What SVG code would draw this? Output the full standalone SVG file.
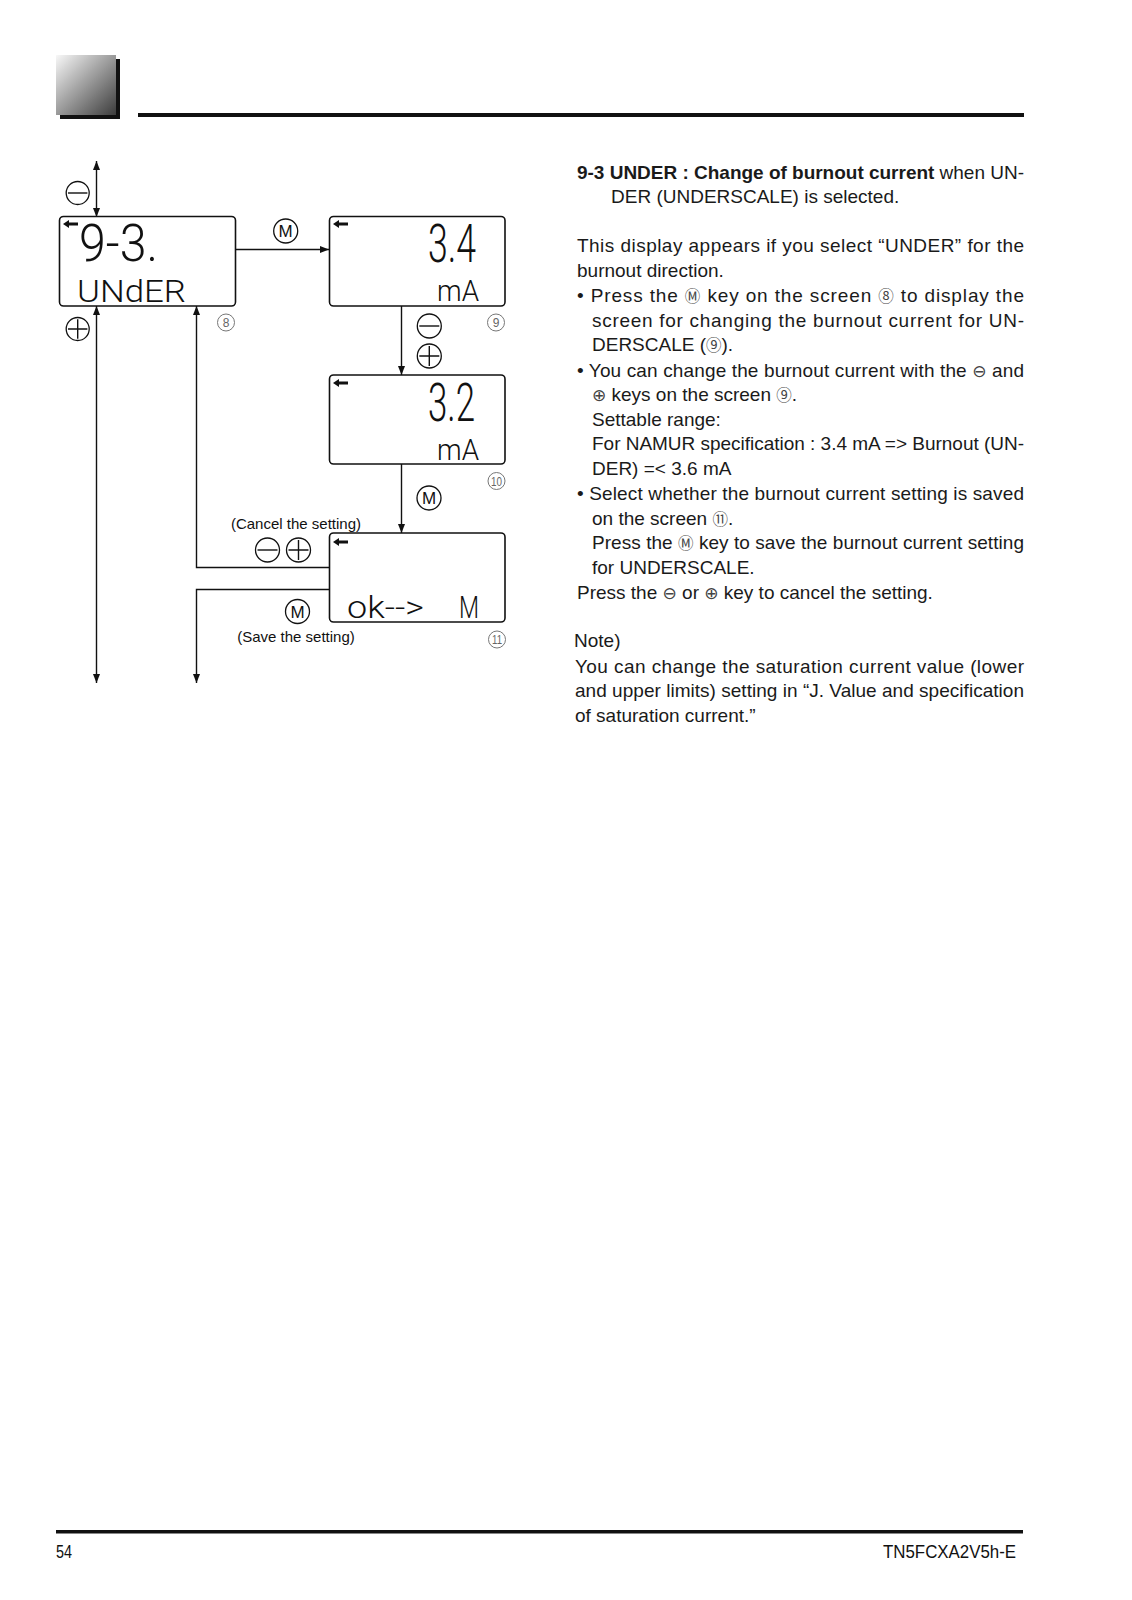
<svg xmlns="http://www.w3.org/2000/svg" width="1132" height="1600" viewBox="0 0 1132 1600">
<style>
.t{font-family:"Liberation Sans",Arial,sans-serif;font-size:19px;fill:#1a1a1a}
.b{font-weight:bold}
.sym{font-family:"DejaVu Sans",sans-serif;font-size:17px;fill:#444}
.cjk{font-family:"Noto Sans CJK JP",sans-serif;font-size:15.5px;fill:#444}
.box{fill:#fff;stroke:#111;stroke-width:1.6}
.con{fill:none;stroke:#111;stroke-width:1.4}
.key{fill:#fff;stroke:#111;stroke-width:1.3}
.num{fill:none;stroke:#777;stroke-width:1}
.numt{font-family:"Liberation Sans",Arial,sans-serif;font-size:12px;fill:#666;text-anchor:middle}
.kt{font-family:"Liberation Sans",Arial,sans-serif;font-size:17px;fill:#111;text-anchor:middle}
.lbl{font-family:"Liberation Sans",Arial,sans-serif;font-size:15px;fill:#111;text-anchor:middle}
.lcd{font-family:Roboto,Lato,"DejaVu Sans",sans-serif;font-weight:300;fill:#111}
.ft{font-family:"Liberation Sans",Arial,sans-serif;font-size:18px;fill:#111}
</style>
<defs>
<linearGradient id="g" x1="0" y1="0" x2="1" y2="1">
<stop offset="0" stop-color="#f8f8f8"/>
<stop offset="1" stop-color="#3c3c3c"/>
</linearGradient>
<marker id="ah" markerUnits="userSpaceOnUse" markerWidth="9" markerHeight="7" refX="9" refY="3.5" orient="auto-start-reverse">
<path d="M0,0 L9,3.5 L0,7 z" fill="#111"/>
</marker>
<path id="sa" d="M0,0 L6,-4 L6,-1.6 L15,-1.6 L15,1.6 L6,1.6 L6,4 z" fill="#111"/>
</defs>

<!-- header -->
<g id="header">
<rect x="60" y="59" width="60" height="60" fill="#111"/>
<rect x="56" y="55" width="60" height="60" fill="url(#g)"/>
<rect x="138" y="113" width="886" height="4" fill="#111"/>
</g>

<!-- connectors -->
<g id="connectors">
<path class="con" d="M96.5,161 V217" marker-start="url(#ah)" marker-end="url(#ah)"/>
<path class="con" d="M96.5,306 V683" marker-start="url(#ah)" marker-end="url(#ah)"/>
<path class="con" d="M329,567.5 H196.5 V306" marker-end="url(#ah)"/>
<path class="con" d="M329,589.5 H196.5 V683" marker-end="url(#ah)"/>
<path class="con" d="M236,249.5 H329" marker-end="url(#ah)"/>
<path class="con" d="M401.5,306 V375" marker-end="url(#ah)"/>
<path class="con" d="M401.5,464 V533" marker-end="url(#ah)"/>
</g>

<!-- screen 8 -->
<g id="screen8">
<rect class="box" x="59.5" y="216.5" width="176" height="89.5" rx="4"/>
<use href="#sa" x="63" y="224"/>
<text class="lcd" x="79" y="261" font-size="52" textLength="79" lengthAdjust="spacingAndGlyphs">9-3.</text>
<text class="lcd" x="77" y="302" font-size="32" textLength="109" lengthAdjust="spacingAndGlyphs">UNdER</text>
</g>

<!-- screen 9 -->
<g id="screen9">
<rect class="box" x="329.5" y="216.5" width="175.5" height="89.5" rx="4"/>
<use href="#sa" x="333" y="224"/>
<text class="lcd" x="428" y="262" font-size="53" textLength="48" lengthAdjust="spacingAndGlyphs">3.4</text>
<text class="lcd" x="437" y="301" font-size="30" textLength="42" lengthAdjust="spacingAndGlyphs">mA</text>
</g>

<!-- screen 10 -->
<g id="screen10">
<rect class="box" x="329.5" y="375" width="175.5" height="89" rx="4"/>
<use href="#sa" x="333" y="383"/>
<text class="lcd" x="428" y="421" font-size="53" textLength="47" lengthAdjust="spacingAndGlyphs">3.2</text>
<text class="lcd" x="437" y="460" font-size="30" textLength="42" lengthAdjust="spacingAndGlyphs">mA</text>
</g>

<!-- screen 11 -->
<g id="screen11">
<rect class="box" x="329.5" y="533" width="175.5" height="89" rx="4"/>
<use href="#sa" x="333" y="542"/>
<text class="lcd" x="347" y="618" font-size="32" textLength="77" lengthAdjust="spacingAndGlyphs">ok--&gt;</text>
<text class="lcd" x="459" y="618" font-size="32" textLength="20" lengthAdjust="spacingAndGlyphs">M</text>
</g>

<!-- keys -->
<g id="key-minus-top"><circle class="key" cx="77.7" cy="193" r="11.5"/><path class="con" d="M68,193 H87.4"/></g>
<g id="key-plus-left"><circle class="key" cx="77.7" cy="329" r="11.5"/><path class="con" d="M68,329 H87.4 M77.7,319.3 V338.7"/></g>
<g id="key-m-1"><circle class="key" cx="285.7" cy="231" r="12"/><text class="kt" x="285.7" y="237">M</text></g>
<g id="key-minus-9"><circle class="key" cx="429.3" cy="326" r="12"/><path class="con" d="M419.3,326 H439.3"/></g>
<g id="key-plus-9"><circle class="key" cx="429.3" cy="356" r="12"/><path class="con" d="M419.3,356 H439.3 M429.3,346 V366"/></g>
<g id="key-m-10"><circle class="key" cx="429" cy="498" r="12"/><text class="kt" x="429" y="504">M</text></g>
<g id="key-cancel">
<text class="lbl" x="296" y="529">(Cancel the setting)</text>
<circle class="key" cx="267.5" cy="550" r="12"/><path class="con" d="M257.5,550 H277.5"/>
<circle class="key" cx="298.5" cy="550" r="12"/><path class="con" d="M288.5,550 H308.5 M298.5,540 V560"/>
</g>
<g id="key-save">
<circle class="key" cx="297.5" cy="611.5" r="12"/><text class="kt" x="297.5" y="617.5">M</text>
<text class="lbl" x="296" y="642">(Save the setting)</text>
</g>

<!-- screen numbers -->
<g id="n8"><circle class="num" cx="226" cy="322.5" r="8.5"/><text class="numt" x="226" y="327">8</text></g>
<g id="n9"><circle class="num" cx="496" cy="322.5" r="8.5"/><text class="numt" x="496" y="327">9</text></g>
<g id="n10"><circle class="num" cx="496.5" cy="481" r="8.5"/><text class="numt" x="496.5" y="485.5" font-size="11" textLength="11" lengthAdjust="spacingAndGlyphs">10</text></g>
<g id="n11"><circle class="num" cx="497" cy="639.5" r="8.5"/><text class="numt" x="497" y="644" font-size="11" textLength="10" lengthAdjust="spacingAndGlyphs">11</text></g>

<!-- body text -->
<g id="body">
<text class="t" x="577" y="178.5" textLength="447" lengthAdjust="spacing"><tspan class="b">9-3 UNDER : Change of burnout current</tspan> when UN-</text>
<text class="t" x="611" y="203">DER (UNDERSCALE) is selected.</text>
<text class="t" x="577" y="252" textLength="447" lengthAdjust="spacing">This display appears if you select “UNDER” for the</text>
<text class="t" x="577" y="276.5">burnout direction.</text>
<text class="t" x="577" y="302" textLength="447" lengthAdjust="spacing">• Press the <tspan class="cjk">Ⓜ</tspan> key on the screen <tspan class="cjk">⑧</tspan> to display the</text>
<text class="t" x="592" y="326.5" textLength="432" lengthAdjust="spacing">screen for changing the burnout current for UN-</text>
<text class="t" x="592" y="351">DERSCALE (<tspan class="cjk">⑨</tspan>).</text>
<text class="t" x="577" y="376.5" textLength="447" lengthAdjust="spacing">• You can change the burnout current with the <tspan class="sym">⊖</tspan> and</text>
<text class="t" x="592" y="401"><tspan class="sym">⊕</tspan> keys on the screen <tspan class="cjk">⑨</tspan>.</text>
<text class="t" x="592" y="425.5">Settable range:</text>
<text class="t" x="592" y="450" textLength="432" lengthAdjust="spacing">For NAMUR specification : 3.4 mA =&gt; Burnout (UN-</text>
<text class="t" x="592" y="474.5">DER) =&lt; 3.6 mA</text>
<text class="t" x="577" y="500" textLength="447" lengthAdjust="spacing">• Select whether the burnout current setting is saved</text>
<text class="t" x="592" y="524.5">on the screen <tspan class="cjk">⑪</tspan>.</text>
<text class="t" x="592" y="549" textLength="432" lengthAdjust="spacing">Press the <tspan class="cjk">Ⓜ</tspan> key to save the burnout current setting</text>
<text class="t" x="592" y="573.5">for UNDERSCALE.</text>
<text class="t" x="577" y="599">Press the <tspan class="sym">⊖</tspan> or <tspan class="sym">⊕</tspan> key to cancel the setting.</text>
<text class="t" x="574" y="647">Note)</text>
<text class="t" x="575" y="672.5" textLength="449" lengthAdjust="spacing">You can change the saturation current value (lower</text>
<text class="t" x="575" y="697" textLength="449" lengthAdjust="spacing">and upper limits) setting in “J. Value and specification</text>
<text class="t" x="575" y="721.5">of saturation current.”</text>
</g>

<!-- footer -->
<g id="footer">
<rect x="56" y="1530" width="967" height="3.5" fill="#111"/>
<text class="ft" x="56" y="1558" textLength="16" lengthAdjust="spacingAndGlyphs">54</text>
<text class="ft" x="883" y="1558" textLength="133" lengthAdjust="spacingAndGlyphs">TN5FCXA2V5h-E</text>
</g>
</svg>
